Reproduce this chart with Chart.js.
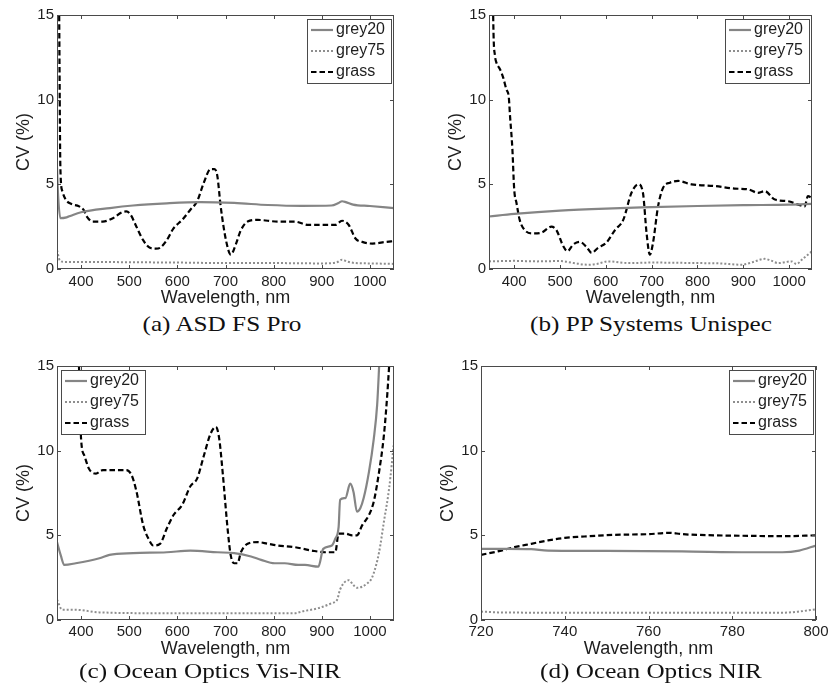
<!DOCTYPE html>
<html>
<head>
<meta charset="utf-8">
<script src="https://cdn.jsdelivr.net/npm/chart.js@4.4.1/dist/chart.umd.min.js"></script>
<style>
  html, body { margin: 0; padding: 0; overflow: hidden; }
  body { background: #fff; width: 830px; height: 691px; position: relative; }
  canvas { position: absolute; }
  .caption {
    position: absolute;
    font-family: 'Liberation Serif', 'Times New Roman', serif;
    font-size: 21px;
    line-height: 21px;
    color: #111;
    white-space: nowrap;
    transform: translateX(-50%) scaleX(1.2);
  }
</style>
</head>
<body>
<canvas id="chartA"></canvas>
<canvas id="chartB"></canvas>
<canvas id="chartC"></canvas>
<canvas id="chartD"></canvas>
<div class="caption" style="left:222px; top:314px;">(a) ASD FS Pro</div>
<div class="caption" style="left:651px; top:314px;">(b) PP Systems Unispec</div>
<div class="caption" style="left:210px; top:661px;">(c) Ocean Optics Vis-NIR</div>
<div class="caption" style="left:651px; top:661px;">(d) Ocean Optics NIR</div>

<script>
// ---- data ----
const cvTicks = [0, 5, 10, 15];
const visTicks = [400, 500, 600, 700, 800, 900, 1000];
const nirTicks = [720, 740, 760, 780, 800];

// (a) ASD FS Pro
const asdGrey20X = [350, 352, 357, 370, 379, 400, 460, 508, 578, 648, 718, 788, 858, 920, 935, 942, 950, 965, 1000, 1050];
const asdGrey20Y = [6.0, 4.5, 3.0, 3.05, 3.15, 3.35, 3.6, 3.75, 3.88, 3.95, 3.9, 3.78, 3.73, 3.75, 3.9, 4.0, 3.95, 3.8, 3.72, 3.6];
const asdGrey75X = [350, 356, 365, 400, 500, 600, 700, 800, 900, 930, 942, 952, 970, 1000, 1050];
const asdGrey75Y = [1.1, 0.5, 0.42, 0.42, 0.4, 0.38, 0.35, 0.35, 0.33, 0.38, 0.55, 0.45, 0.35, 0.33, 0.3];
const asdGrassX = [351, 354.5, 357, 361, 368, 379, 396, 405, 412, 424, 445, 466, 485, 494, 503, 515, 529, 543, 555, 564, 578, 592, 610, 627, 641, 655, 669, 677, 683, 690, 701, 711, 722, 732, 746, 767, 809, 844, 872, 900, 928, 942, 956, 970, 984, 1005, 1033, 1050];
const asdGrassY = [30, 15.2, 6.0, 4.6, 4.1, 3.85, 3.7, 3.5, 3.1, 2.8, 2.8, 3.0, 3.35, 3.4, 3.2, 2.5, 1.7, 1.25, 1.2, 1.25, 1.7, 2.4, 2.9, 3.5, 4.0, 5.1, 5.9, 5.9, 5.5, 3.7, 1.7, 0.85, 1.5, 2.3, 2.8, 2.9, 2.8, 2.8, 2.6, 2.6, 2.6, 2.85, 2.6, 1.8, 1.6, 1.5, 1.6, 1.65];

// (b) PP Systems Unispec
const ppGrey20X = [345, 400, 500, 600, 700, 800, 900, 1000, 1050];
const ppGrey20Y = [3.1, 3.25, 3.45, 3.57, 3.65, 3.72, 3.77, 3.8, 3.85];
const ppGrey75X = [345, 400, 450, 500, 530, 561, 580, 605, 650, 700, 800, 850, 896, 920, 947, 960, 976, 1005, 1016, 1030, 1050];
const ppGrey75Y = [0.45, 0.48, 0.45, 0.47, 0.35, 0.25, 0.3, 0.45, 0.35, 0.38, 0.35, 0.33, 0.25, 0.4, 0.6, 0.5, 0.35, 0.45, 0.3, 0.6, 1.05];
const ppGrassX = [352, 354, 358, 361, 369, 376, 383, 388, 391, 396, 400, 405, 412, 423, 441, 460, 481, 492, 507, 516, 529, 543, 558, 569, 583, 601, 620, 638, 656, 671, 681, 689, 696, 703, 714, 725, 740, 758, 787, 838, 881, 911, 932, 947, 969, 998, 1020, 1034, 1041, 1050];
const ppGrassY = [25, 15.2, 12.6, 12.2, 11.8, 11.3, 10.6, 10.2, 9.0, 7.1, 4.7, 3.9, 2.9, 2.3, 2.1, 2.15, 2.5, 2.3, 1.35, 1.05, 1.45, 1.6, 1.3, 0.95, 1.25, 1.55, 2.3, 2.9, 4.5, 5.0, 4.5, 2.1, 0.85, 1.55, 3.7, 4.8, 5.1, 5.2, 5.0, 4.9, 4.75, 4.7, 4.5, 4.6, 4.1, 4.0, 3.8, 3.7, 4.3, 4.2];

// (c) Ocean Optics Vis-NIR
const visGrey20X = [350, 358, 365, 389, 438, 459, 508, 578, 627, 683, 718, 753, 774, 802, 823, 851, 865, 893, 903, 921, 928, 935, 938, 949, 959, 966, 973, 980, 987, 998, 1008, 1015, 1020];
const visGrey20Y = [4.6, 3.8, 3.25, 3.35, 3.65, 3.85, 3.95, 4.0, 4.1, 4.0, 3.95, 3.75, 3.55, 3.35, 3.35, 3.25, 3.25, 3.15, 4.2, 4.4, 4.8, 5.5, 7.1, 7.2, 8.05, 7.55, 6.4, 6.6, 7.2, 8.75, 10.7, 12.7, 15.5];
const visGrey75X = [350, 361, 389, 438, 578, 788, 844, 858, 893, 921, 932, 938, 956, 966, 973, 994, 1005, 1019, 1029, 1040, 1050];
const visGrey75Y = [1.2, 0.6, 0.6, 0.45, 0.4, 0.4, 0.4, 0.5, 0.7, 1.0, 1.2, 1.8, 2.35, 2.05, 1.9, 2.15, 2.55, 4.0, 5.8, 7.8, 10.5];
const visGrassX = [350, 395, 400, 407, 417, 431, 445, 473, 494, 505, 515, 529, 540, 550, 564, 578, 592, 610, 627, 641, 655, 669, 680, 687, 694, 705, 711, 718, 725, 732, 746, 767, 788, 809, 844, 879, 907, 928, 935, 949, 963, 973, 984, 998, 1008, 1019, 1029, 1036, 1041];
const visGrassY = [30, 15.5, 10.7, 9.7, 8.9, 8.65, 8.85, 8.85, 8.85, 8.55, 7.6, 5.6, 4.8, 4.4, 4.5, 5.4, 6.2, 6.8, 7.9, 8.35, 9.7, 11.0, 11.4, 10.7, 8.75, 5.2, 3.8, 3.35, 3.35, 4.0, 4.5, 4.6, 4.5, 4.4, 4.3, 4.1, 4.0, 4.0, 5.1, 5.1, 5.0, 5.0, 5.6, 6.2, 7.0, 8.75, 10.9, 13.3, 15.5];

// (d) Ocean Optics NIR
const nirGrey20X = [720, 726, 732, 736, 750, 768, 784, 792, 796, 800];
const nirGrey20Y = [4.2, 4.2, 4.18, 4.1, 4.08, 4.05, 4.0, 4.0, 4.1, 4.4];
const nirGrey75X = [720, 724, 740, 760, 780, 792, 796, 800];
const nirGrey75Y = [0.5, 0.45, 0.43, 0.43, 0.43, 0.43, 0.5, 0.63];
const nirGrassX = [720, 724, 728, 732, 736, 740, 744, 752, 760, 765, 768, 776, 784, 792, 800];
const nirGrassY = [3.85, 4.05, 4.3, 4.5, 4.7, 4.85, 4.92, 5.03, 5.07, 5.15, 5.07, 5.0, 4.97, 4.95, 5.0];

// ---- styling ----
const SANS = '"Liberation Sans", Arial, sans-serif';
const TEXT = '#1e1e1e';
const FRAME = '#4a4a4a';
const Y_AXIS_W = 57, X_AXIS_H = 40, PAD_TOP = 15, PAD_RIGHT = 16;

function pts(xs, ys) {
    return xs.map((x, i) => ({ x: x, y: ys[i] }));
}

function makeDatasets(g20x, g20y, g75x, g75y, grx, gry) {
    return [{
        label: 'grey20',
        data: pts(g20x, g20y),
        borderColor: '#858585',
        borderWidth: 2.2
    }, {
        label: 'grey75',
        data: pts(g75x, g75y),
        borderColor: '#8e8e8e',
        borderWidth: 2,
        borderDash: [2, 2]
    }, {
        label: 'grass',
        data: pts(grx, gry),
        borderColor: '#000',
        borderWidth: 2.2,
        borderDash: [5.5, 3]
    }];
}

// MATLAB style frame with inward ticks on all four sides
const matlabBox = {
    id: 'matlabBox',
    afterDatasetsDraw(chart) {
        const { ctx, chartArea: a, scales: { x, y } } = chart;
        ctx.save();
        ctx.strokeStyle = FRAME;
        ctx.lineWidth = 1;
        ctx.strokeRect(a.left + 0.5, a.top + 0.5, a.right - a.left - 1, a.bottom - a.top - 1);
        ctx.beginPath();
        x.ticks.forEach(t => {
            const px = Math.round(x.getPixelForValue(t.value)) + 0.5;
            ctx.moveTo(px, a.bottom); ctx.lineTo(px, a.bottom - 4);
            ctx.moveTo(px, a.top); ctx.lineTo(px, a.top + 4);
        });
        y.ticks.forEach(t => {
            const py = Math.round(y.getPixelForValue(t.value)) + 0.5;
            ctx.moveTo(a.left, py); ctx.lineTo(a.left + 4, py);
            ctx.moveTo(a.right, py); ctx.lineTo(a.right - 4, py);
        });
        ctx.stroke();
        ctx.restore();
    }
};

// legend boxed inside the axes, like MATLAB's
const cvLegend = {
    id: 'cvLegend',
    afterDraw(chart, args, opts) {
        const { ctx, chartArea: a } = chart;
        const w = 84, h = 64;
        const left = opts.side === 'left' ? a.left + 4 : a.right - 3 - w;
        const top = a.top + 4;
        ctx.save();
        ctx.fillStyle = '#fff';
        ctx.fillRect(left, top, w, h);
        ctx.strokeStyle = FRAME;
        ctx.lineWidth = 1;
        ctx.strokeRect(left + 0.5, top + 0.5, w, h);
        ctx.font = '16px ' + SANS;
        ctx.textBaseline = 'middle';
        chart.data.datasets.forEach((ds, i) => {
            const yy = top + 11 + i * 21;
            ctx.strokeStyle = ds.borderColor;
            ctx.lineWidth = ds.borderWidth;
            ctx.setLineDash(ds.borderDash || []);
            ctx.beginPath();
            ctx.moveTo(left + 4, yy);
            ctx.lineTo(left + 26, yy);
            ctx.stroke();
            ctx.setLineDash([]);
            ctx.fillStyle = TEXT;
            ctx.fillText(ds.label, left + 29, yy);
        });
        ctx.restore();
    }
};

function buildChart(canvasId, area, xMin, xMax, xTicks, datasets, legendSide, tickPad) {
    const canvas = document.getElementById(canvasId);
    const left = area[0] - Y_AXIS_W;
    const top = area[1] - PAD_TOP;
    canvas.width = area[2] - left + PAD_RIGHT;
    canvas.height = area[3] - top + X_AXIS_H;
    canvas.style.left = left + 'px';
    canvas.style.top = top + 'px';

    return new Chart(canvas, {
        type: 'line',
        data: { datasets: datasets },
        plugins: [matlabBox, cvLegend],
        options: {
            responsive: false,
            animation: false,
            layout: { padding: { left: 0, top: PAD_TOP, right: PAD_RIGHT, bottom: 0 } },
            elements: {
                point: { radius: 0 },
                line: { cubicInterpolationMode: 'monotone', fill: false }
            },
            plugins: {
                legend: { display: false },
                tooltip: { enabled: false },
                cvLegend: { side: legendSide }
            },
            scales: {
                x: {
                    type: 'linear',
                    min: xMin,
                    max: xMax,
                    afterBuildTicks: s => { s.ticks = xTicks.map(v => ({ value: v })); },
                    afterFit: s => { s.height = X_AXIS_H; },
                    grid: { display: false, drawTicks: false },
                    border: { display: false },
                    ticks: {
                        color: TEXT, font: { family: SANS, size: 15 }, padding: tickPad,
                        maxRotation: 0, autoSkip: false, callback: v => String(v)
                    },
                    title: { display: true, text: 'Wavelength, nm', color: TEXT, font: { family: SANS, size: 18 }, padding: { top: 0, bottom: 0 } }
                },
                y: {
                    type: 'linear',
                    min: 0,
                    max: 15,
                    afterBuildTicks: s => { s.ticks = cvTicks.map(v => ({ value: v })); },
                    afterFit: s => { s.width = Y_AXIS_W; },
                    grid: { display: false, drawTicks: false },
                    border: { display: false },
                    ticks: { color: TEXT, font: { family: SANS, size: 15 }, padding: 3, callback: v => String(v) },
                    title: { display: true, text: 'CV (%)', color: TEXT, font: { family: SANS, size: 18 }, padding: { top: 13, bottom: 0 } }
                }
            }
        }
    });
}

buildChart('chartA', [57, 15, 394, 269], 350, 1050, visTicks,
    makeDatasets(asdGrey20X, asdGrey20Y, asdGrey75X, asdGrey75Y, asdGrassX, asdGrassY), 'right', 4);
buildChart('chartB', [489, 15, 812, 269], 345, 1050, visTicks,
    makeDatasets(ppGrey20X, ppGrey20Y, ppGrey75X, ppGrey75Y, ppGrassX, ppGrassY), 'right', 4);
buildChart('chartC', [57, 366, 394, 620], 350, 1050, visTicks,
    makeDatasets(visGrey20X, visGrey20Y, visGrey75X, visGrey75Y, visGrassX, visGrassY), 'left', 3);
buildChart('chartD', [481, 366, 816, 620], 720, 800, nirTicks,
    makeDatasets(nirGrey20X, nirGrey20Y, nirGrey75X, nirGrey75Y, nirGrassX, nirGrassY), 'right', 3);
</script>
</body>
</html>
